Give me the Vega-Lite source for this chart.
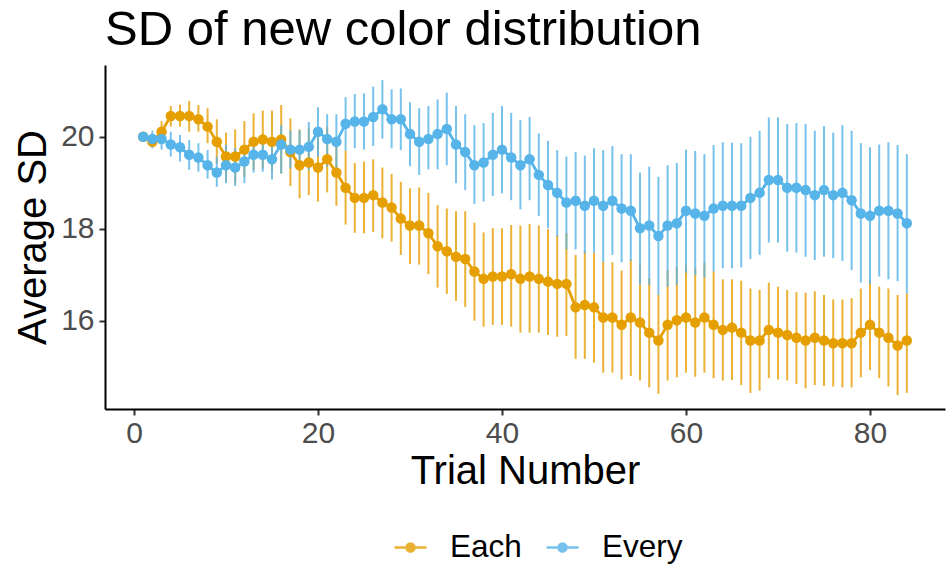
{
  "$schema": "https://vega.github.io/schema/vega-lite/v6.json",
  "width": 840,
  "height": 344,
  "autosize": "none",
  "padding": {"left": 105, "top": 65, "right": 2, "bottom": 158},
  "background": "white",
  "config": {"font": "Liberation Sans", "view": {"stroke": null}},
  "title": {"text": "SD of new color distribution", "anchor": "start", "frame": "group", "fontSize": 49, "fontWeight": "normal", "color": "black", "offset": 10},
  "datasets": {
    "sd": [
      {"t":1,"c":"Each","m":20.00,"lo":20.00,"hi":20.00},
      {"t":2,"c":"Each","m":19.89,"lo":19.82,"hi":19.96},
      {"t":3,"c":"Each","m":20.11,"lo":19.89,"hi":20.34},
      {"t":4,"c":"Each","m":20.45,"lo":20.22,"hi":20.67},
      {"t":5,"c":"Each","m":20.45,"lo":20.22,"hi":20.70},
      {"t":6,"c":"Each","m":20.45,"lo":20.11,"hi":20.78},
      {"t":7,"c":"Each","m":20.38,"lo":20.11,"hi":20.69},
      {"t":8,"c":"Each","m":20.22,"lo":19.86,"hi":20.62},
      {"t":9,"c":"Each","m":19.89,"lo":19.42,"hi":20.38},
      {"t":10,"c":"Each","m":19.57,"lo":19.02,"hi":20.09},
      {"t":11,"c":"Each","m":19.57,"lo":18.99,"hi":20.16},
      {"t":12,"c":"Each","m":19.72,"lo":19.13,"hi":20.34},
      {"t":13,"c":"Each","m":19.89,"lo":19.28,"hi":20.51},
      {"t":14,"c":"Each","m":19.94,"lo":19.31,"hi":20.57},
      {"t":15,"c":"Each","m":19.89,"lo":19.22,"hi":20.57},
      {"t":16,"c":"Each","m":19.94,"lo":19.20,"hi":20.69},
      {"t":17,"c":"Each","m":19.67,"lo":18.93,"hi":20.40},
      {"t":18,"c":"Each","m":19.38,"lo":18.66,"hi":20.16},
      {"t":19,"c":"Each","m":19.44,"lo":18.73,"hi":20.18},
      {"t":20,"c":"Each","m":19.33,"lo":18.59,"hi":20.14},
      {"t":21,"c":"Each","m":19.51,"lo":18.79,"hi":20.22},
      {"t":22,"c":"Each","m":19.22,"lo":18.50,"hi":19.93},
      {"t":23,"c":"Each","m":18.89,"lo":18.09,"hi":19.70},
      {"t":24,"c":"Each","m":18.67,"lo":17.91,"hi":19.43},
      {"t":25,"c":"Each","m":18.67,"lo":17.90,"hi":19.46},
      {"t":26,"c":"Each","m":18.73,"lo":17.93,"hi":19.51},
      {"t":27,"c":"Each","m":18.57,"lo":17.79,"hi":19.33},
      {"t":28,"c":"Each","m":18.46,"lo":17.72,"hi":19.19},
      {"t":29,"c":"Each","m":18.22,"lo":17.43,"hi":19.02},
      {"t":30,"c":"Each","m":18.07,"lo":17.23,"hi":18.88},
      {"t":31,"c":"Each","m":18.07,"lo":17.22,"hi":18.90},
      {"t":32,"c":"Each","m":17.90,"lo":17.01,"hi":18.78},
      {"t":33,"c":"Each","m":17.62,"lo":16.72,"hi":18.51},
      {"t":34,"c":"Each","m":17.51,"lo":16.58,"hi":18.44},
      {"t":35,"c":"Each","m":17.39,"lo":16.43,"hi":18.38},
      {"t":36,"c":"Each","m":17.34,"lo":16.30,"hi":18.38},
      {"t":37,"c":"Each","m":17.07,"lo":16.00,"hi":18.13},
      {"t":38,"c":"Each","m":16.91,"lo":15.87,"hi":17.92},
      {"t":39,"c":"Each","m":16.96,"lo":15.91,"hi":18.01},
      {"t":40,"c":"Each","m":16.96,"lo":15.91,"hi":18.01},
      {"t":41,"c":"Each","m":17.01,"lo":15.87,"hi":18.08},
      {"t":42,"c":"Each","m":16.91,"lo":15.74,"hi":18.07},
      {"t":43,"c":"Each","m":16.96,"lo":15.74,"hi":18.10},
      {"t":44,"c":"Each","m":16.91,"lo":15.74,"hi":18.07},
      {"t":45,"c":"Each","m":16.85,"lo":15.69,"hi":17.99},
      {"t":46,"c":"Each","m":16.80,"lo":15.65,"hi":17.86},
      {"t":47,"c":"Each","m":16.80,"lo":15.67,"hi":17.90},
      {"t":48,"c":"Each","m":16.29,"lo":15.17,"hi":17.43},
      {"t":49,"c":"Each","m":16.34,"lo":15.17,"hi":17.52},
      {"t":50,"c":"Each","m":16.29,"lo":15.09,"hi":17.48},
      {"t":51,"c":"Each","m":16.07,"lo":14.87,"hi":17.28},
      {"t":52,"c":"Each","m":16.07,"lo":14.87,"hi":17.27},
      {"t":53,"c":"Each","m":15.91,"lo":14.72,"hi":17.09},
      {"t":54,"c":"Each","m":16.07,"lo":14.80,"hi":17.33},
      {"t":55,"c":"Each","m":15.96,"lo":14.70,"hi":17.21},
      {"t":56,"c":"Each","m":15.74,"lo":14.55,"hi":16.92},
      {"t":57,"c":"Each","m":15.57,"lo":14.41,"hi":16.56},
      {"t":58,"c":"Each","m":15.91,"lo":14.70,"hi":17.10},
      {"t":59,"c":"Each","m":16.01,"lo":14.77,"hi":17.17},
      {"t":60,"c":"Each","m":16.07,"lo":14.87,"hi":17.21},
      {"t":61,"c":"Each","m":15.96,"lo":14.78,"hi":17.14},
      {"t":62,"c":"Each","m":16.07,"lo":14.87,"hi":17.26},
      {"t":63,"c":"Each","m":15.91,"lo":14.75,"hi":17.07},
      {"t":64,"c":"Each","m":15.80,"lo":14.70,"hi":16.90},
      {"t":65,"c":"Each","m":15.85,"lo":14.71,"hi":16.90},
      {"t":66,"c":"Each","m":15.74,"lo":14.60,"hi":16.87},
      {"t":67,"c":"Each","m":15.57,"lo":14.43,"hi":16.70},
      {"t":68,"c":"Each","m":15.57,"lo":14.48,"hi":16.67},
      {"t":69,"c":"Each","m":15.80,"lo":14.75,"hi":16.83},
      {"t":70,"c":"Each","m":15.74,"lo":14.72,"hi":16.74},
      {"t":71,"c":"Each","m":15.69,"lo":14.70,"hi":16.67},
      {"t":72,"c":"Each","m":15.63,"lo":14.62,"hi":16.62},
      {"t":73,"c":"Each","m":15.57,"lo":14.53,"hi":16.61},
      {"t":74,"c":"Each","m":15.63,"lo":14.60,"hi":16.64},
      {"t":75,"c":"Each","m":15.57,"lo":14.58,"hi":16.56},
      {"t":76,"c":"Each","m":15.51,"lo":14.57,"hi":16.46},
      {"t":77,"c":"Each","m":15.51,"lo":14.55,"hi":16.46},
      {"t":78,"c":"Each","m":15.51,"lo":14.55,"hi":16.49},
      {"t":79,"c":"Each","m":15.74,"lo":14.77,"hi":16.70},
      {"t":80,"c":"Each","m":15.91,"lo":14.93,"hi":16.88},
      {"t":81,"c":"Each","m":15.74,"lo":14.75,"hi":16.74},
      {"t":82,"c":"Each","m":15.63,"lo":14.57,"hi":16.70},
      {"t":83,"c":"Each","m":15.46,"lo":14.38,"hi":16.56},
      {"t":84,"c":"Each","m":15.57,"lo":14.43,"hi":16.59},
      {"t":1,"c":"Every","m":20.00,"lo":20.00,"hi":20.00},
      {"t":2,"c":"Every","m":19.95,"lo":19.75,"hi":20.13},
      {"t":3,"c":"Every","m":19.95,"lo":19.72,"hi":20.11},
      {"t":4,"c":"Every","m":19.83,"lo":19.57,"hi":20.11},
      {"t":5,"c":"Every","m":19.77,"lo":19.46,"hi":20.04},
      {"t":6,"c":"Every","m":19.61,"lo":19.28,"hi":19.93},
      {"t":7,"c":"Every","m":19.55,"lo":19.24,"hi":19.86},
      {"t":8,"c":"Every","m":19.38,"lo":19.09,"hi":19.71},
      {"t":9,"c":"Every","m":19.22,"lo":18.91,"hi":19.57},
      {"t":10,"c":"Every","m":19.38,"lo":18.99,"hi":19.82},
      {"t":11,"c":"Every","m":19.33,"lo":18.93,"hi":19.75},
      {"t":12,"c":"Every","m":19.46,"lo":18.99,"hi":19.82},
      {"t":13,"c":"Every","m":19.61,"lo":19.22,"hi":19.93},
      {"t":14,"c":"Every","m":19.61,"lo":19.24,"hi":19.93},
      {"t":15,"c":"Every","m":19.51,"lo":19.07,"hi":19.82},
      {"t":16,"c":"Every","m":19.83,"lo":19.20,"hi":20.25},
      {"t":17,"c":"Every","m":19.72,"lo":19.31,"hi":20.14},
      {"t":18,"c":"Every","m":19.72,"lo":19.36,"hi":20.14},
      {"t":19,"c":"Every","m":19.78,"lo":19.28,"hi":20.32},
      {"t":20,"c":"Every","m":20.11,"lo":19.57,"hi":20.64},
      {"t":21,"c":"Every","m":19.95,"lo":19.35,"hi":20.49},
      {"t":22,"c":"Every","m":19.89,"lo":19.28,"hi":20.49},
      {"t":23,"c":"Every","m":20.28,"lo":19.70,"hi":20.86},
      {"t":24,"c":"Every","m":20.33,"lo":19.75,"hi":20.93},
      {"t":25,"c":"Every","m":20.33,"lo":19.72,"hi":20.94},
      {"t":26,"c":"Every","m":20.43,"lo":19.80,"hi":21.09},
      {"t":27,"c":"Every","m":20.60,"lo":19.96,"hi":21.23},
      {"t":28,"c":"Every","m":20.38,"lo":19.75,"hi":21.03},
      {"t":29,"c":"Every","m":20.38,"lo":19.71,"hi":21.05},
      {"t":30,"c":"Every","m":20.06,"lo":19.36,"hi":20.75},
      {"t":31,"c":"Every","m":19.89,"lo":19.17,"hi":20.62},
      {"t":32,"c":"Every","m":19.95,"lo":19.29,"hi":20.67},
      {"t":33,"c":"Every","m":20.06,"lo":19.29,"hi":20.81},
      {"t":34,"c":"Every","m":20.17,"lo":19.38,"hi":20.96},
      {"t":35,"c":"Every","m":19.83,"lo":18.99,"hi":20.67},
      {"t":36,"c":"Every","m":19.67,"lo":18.84,"hi":20.49},
      {"t":37,"c":"Every","m":19.38,"lo":18.54,"hi":20.25},
      {"t":38,"c":"Every","m":19.44,"lo":18.59,"hi":20.30},
      {"t":39,"c":"Every","m":19.61,"lo":18.71,"hi":20.52},
      {"t":40,"c":"Every","m":19.72,"lo":18.77,"hi":20.67},
      {"t":41,"c":"Every","m":19.55,"lo":18.62,"hi":20.52},
      {"t":42,"c":"Every","m":19.38,"lo":18.42,"hi":20.36},
      {"t":43,"c":"Every","m":19.51,"lo":18.62,"hi":20.43},
      {"t":44,"c":"Every","m":19.17,"lo":18.28,"hi":20.07},
      {"t":45,"c":"Every","m":18.95,"lo":18.01,"hi":19.91},
      {"t":46,"c":"Every","m":18.78,"lo":17.83,"hi":19.71},
      {"t":47,"c":"Every","m":18.57,"lo":17.55,"hi":19.57},
      {"t":48,"c":"Every","m":18.61,"lo":17.55,"hi":19.67},
      {"t":49,"c":"Every","m":18.50,"lo":17.46,"hi":19.59},
      {"t":50,"c":"Every","m":18.61,"lo":17.48,"hi":19.75},
      {"t":51,"c":"Every","m":18.50,"lo":17.28,"hi":19.71},
      {"t":52,"c":"Every","m":18.61,"lo":17.43,"hi":19.80},
      {"t":53,"c":"Every","m":18.44,"lo":17.27,"hi":19.62},
      {"t":54,"c":"Every","m":18.39,"lo":17.30,"hi":19.62},
      {"t":55,"c":"Every","m":18.01,"lo":16.78,"hi":19.22},
      {"t":56,"c":"Every","m":18.07,"lo":16.78,"hi":19.35},
      {"t":57,"c":"Every","m":17.84,"lo":16.56,"hi":19.13},
      {"t":58,"c":"Every","m":18.07,"lo":16.74,"hi":19.38},
      {"t":59,"c":"Every","m":18.12,"lo":16.78,"hi":19.43},
      {"t":60,"c":"Every","m":18.39,"lo":17.04,"hi":19.72},
      {"t":61,"c":"Every","m":18.33,"lo":16.99,"hi":19.69},
      {"t":62,"c":"Every","m":18.28,"lo":16.94,"hi":19.62},
      {"t":63,"c":"Every","m":18.44,"lo":17.07,"hi":19.82},
      {"t":64,"c":"Every","m":18.50,"lo":17.14,"hi":19.88},
      {"t":65,"c":"Every","m":18.50,"lo":17.14,"hi":19.87},
      {"t":66,"c":"Every","m":18.50,"lo":17.16,"hi":19.86},
      {"t":67,"c":"Every","m":18.67,"lo":17.34,"hi":20.00},
      {"t":68,"c":"Every","m":18.78,"lo":17.43,"hi":20.13},
      {"t":69,"c":"Every","m":19.06,"lo":17.70,"hi":20.42},
      {"t":70,"c":"Every","m":19.06,"lo":17.70,"hi":20.42},
      {"t":71,"c":"Every","m":18.89,"lo":17.50,"hi":20.28},
      {"t":72,"c":"Every","m":18.89,"lo":17.48,"hi":20.30},
      {"t":73,"c":"Every","m":18.84,"lo":17.39,"hi":20.28},
      {"t":74,"c":"Every","m":18.73,"lo":17.32,"hi":20.13},
      {"t":75,"c":"Every","m":18.84,"lo":17.39,"hi":20.23},
      {"t":76,"c":"Every","m":18.73,"lo":17.36,"hi":20.09},
      {"t":77,"c":"Every","m":18.78,"lo":17.30,"hi":20.25},
      {"t":78,"c":"Every","m":18.62,"lo":17.10,"hi":20.13},
      {"t":79,"c":"Every","m":18.33,"lo":16.83,"hi":19.86},
      {"t":80,"c":"Every","m":18.28,"lo":16.80,"hi":19.77},
      {"t":81,"c":"Every","m":18.39,"lo":16.96,"hi":19.83},
      {"t":82,"c":"Every","m":18.39,"lo":16.90,"hi":19.88},
      {"t":83,"c":"Every","m":18.33,"lo":16.86,"hi":19.82},
      {"t":84,"c":"Every","m":18.12,"lo":16.59,"hi":19.62}
    ],
    "ref": [{"y": 20}]
  },
  "layer": [
    {
      "data": {"name": "ref"},
      "mark": {"type": "rule", "color": "black", "strokeWidth": 2.5, "strokeDash": [9, 8]},
      "encoding": {"y": {"field": "y", "type": "quantitative"}}
    },
    {
      "data": {"name": "sd"},
      "mark": {"type": "rule", "strokeWidth": 2, "opacity": 0.8},
      "encoding": {
        "x": {"field": "t", "type": "quantitative"},
        "y": {"field": "lo", "type": "quantitative"},
        "y2": {"field": "hi"},
        "color": {"field": "c", "type": "nominal"}
      }
    },
    {
      "data": {"name": "sd"},
      "mark": {"type": "line", "strokeWidth": 2.8},
      "encoding": {
        "x": {"field": "t", "type": "quantitative"},
        "y": {"field": "m", "type": "quantitative"},
        "color": {"field": "c", "type": "nominal"}
      }
    },
    {
      "data": {"name": "sd"},
      "mark": {"type": "point", "filled": true, "opacity": 1, "size": 110},
      "encoding": {
        "x": {"field": "t", "type": "quantitative"},
        "y": {"field": "m", "type": "quantitative"},
        "color": {"field": "c", "type": "nominal"}
      }
    }
  ],
  "resolve": {"scale": {"x": "shared", "y": "shared", "color": "shared"}},
  "encoding": {
    "x": {
      "field": "t", "type": "quantitative",
      "scale": {"domain": [-3.15, 88.15], "nice": false, "zero": false},
      "axis": {"title": "Trial Number", "values": [0, 20, 40, 60, 80], "grid": false, "domainColor": "black", "domainWidth": 2, "tickColor": "#333333", "tickWidth": 2, "tickSize": 6, "labelFontSize": 30, "labelColor": "#4D4D4D", "labelPadding": 3, "titleFontSize": 40, "titleFontWeight": "normal", "titleColor": "black", "titlePadding": 3, "labelFlush": false}
    },
    "y": {
      "type": "quantitative",
      "scale": {"domain": [14.08, 21.56], "nice": false, "zero": false},
      "axis": {"title": "Average SD", "values": [16, 18, 20], "grid": false, "domainColor": "black", "domainWidth": 2, "tickColor": "#333333", "tickWidth": 2, "tickSize": 6, "labelFontSize": 30, "labelColor": "#4D4D4D", "labelPadding": 5, "titleFontSize": 40, "titleFontWeight": "normal", "titleColor": "black", "titlePadding": 7}
    },
    "color": {
      "field": "c", "type": "nominal",
      "scale": {"domain": ["Each", "Every"], "range": ["#E69F00", "#56B4E9"]},
      "legend": {"title": null, "orient": "none", "direction": "horizontal", "legendX": 288, "legendY": 465, "labelFontSize": 31.5, "labelColor": "black", "symbolType": "M-1,0L1,0M-0.25,0A0.25,0.25,0,1,1,0.25,0A0.25,0.25,0,1,1,-0.25,0Z", "symbolSize": 1024, "symbolStrokeWidth": 2.5, "labelOffset": 22, "columnPadding": 19, "padding": 0}
    }
  }
}
